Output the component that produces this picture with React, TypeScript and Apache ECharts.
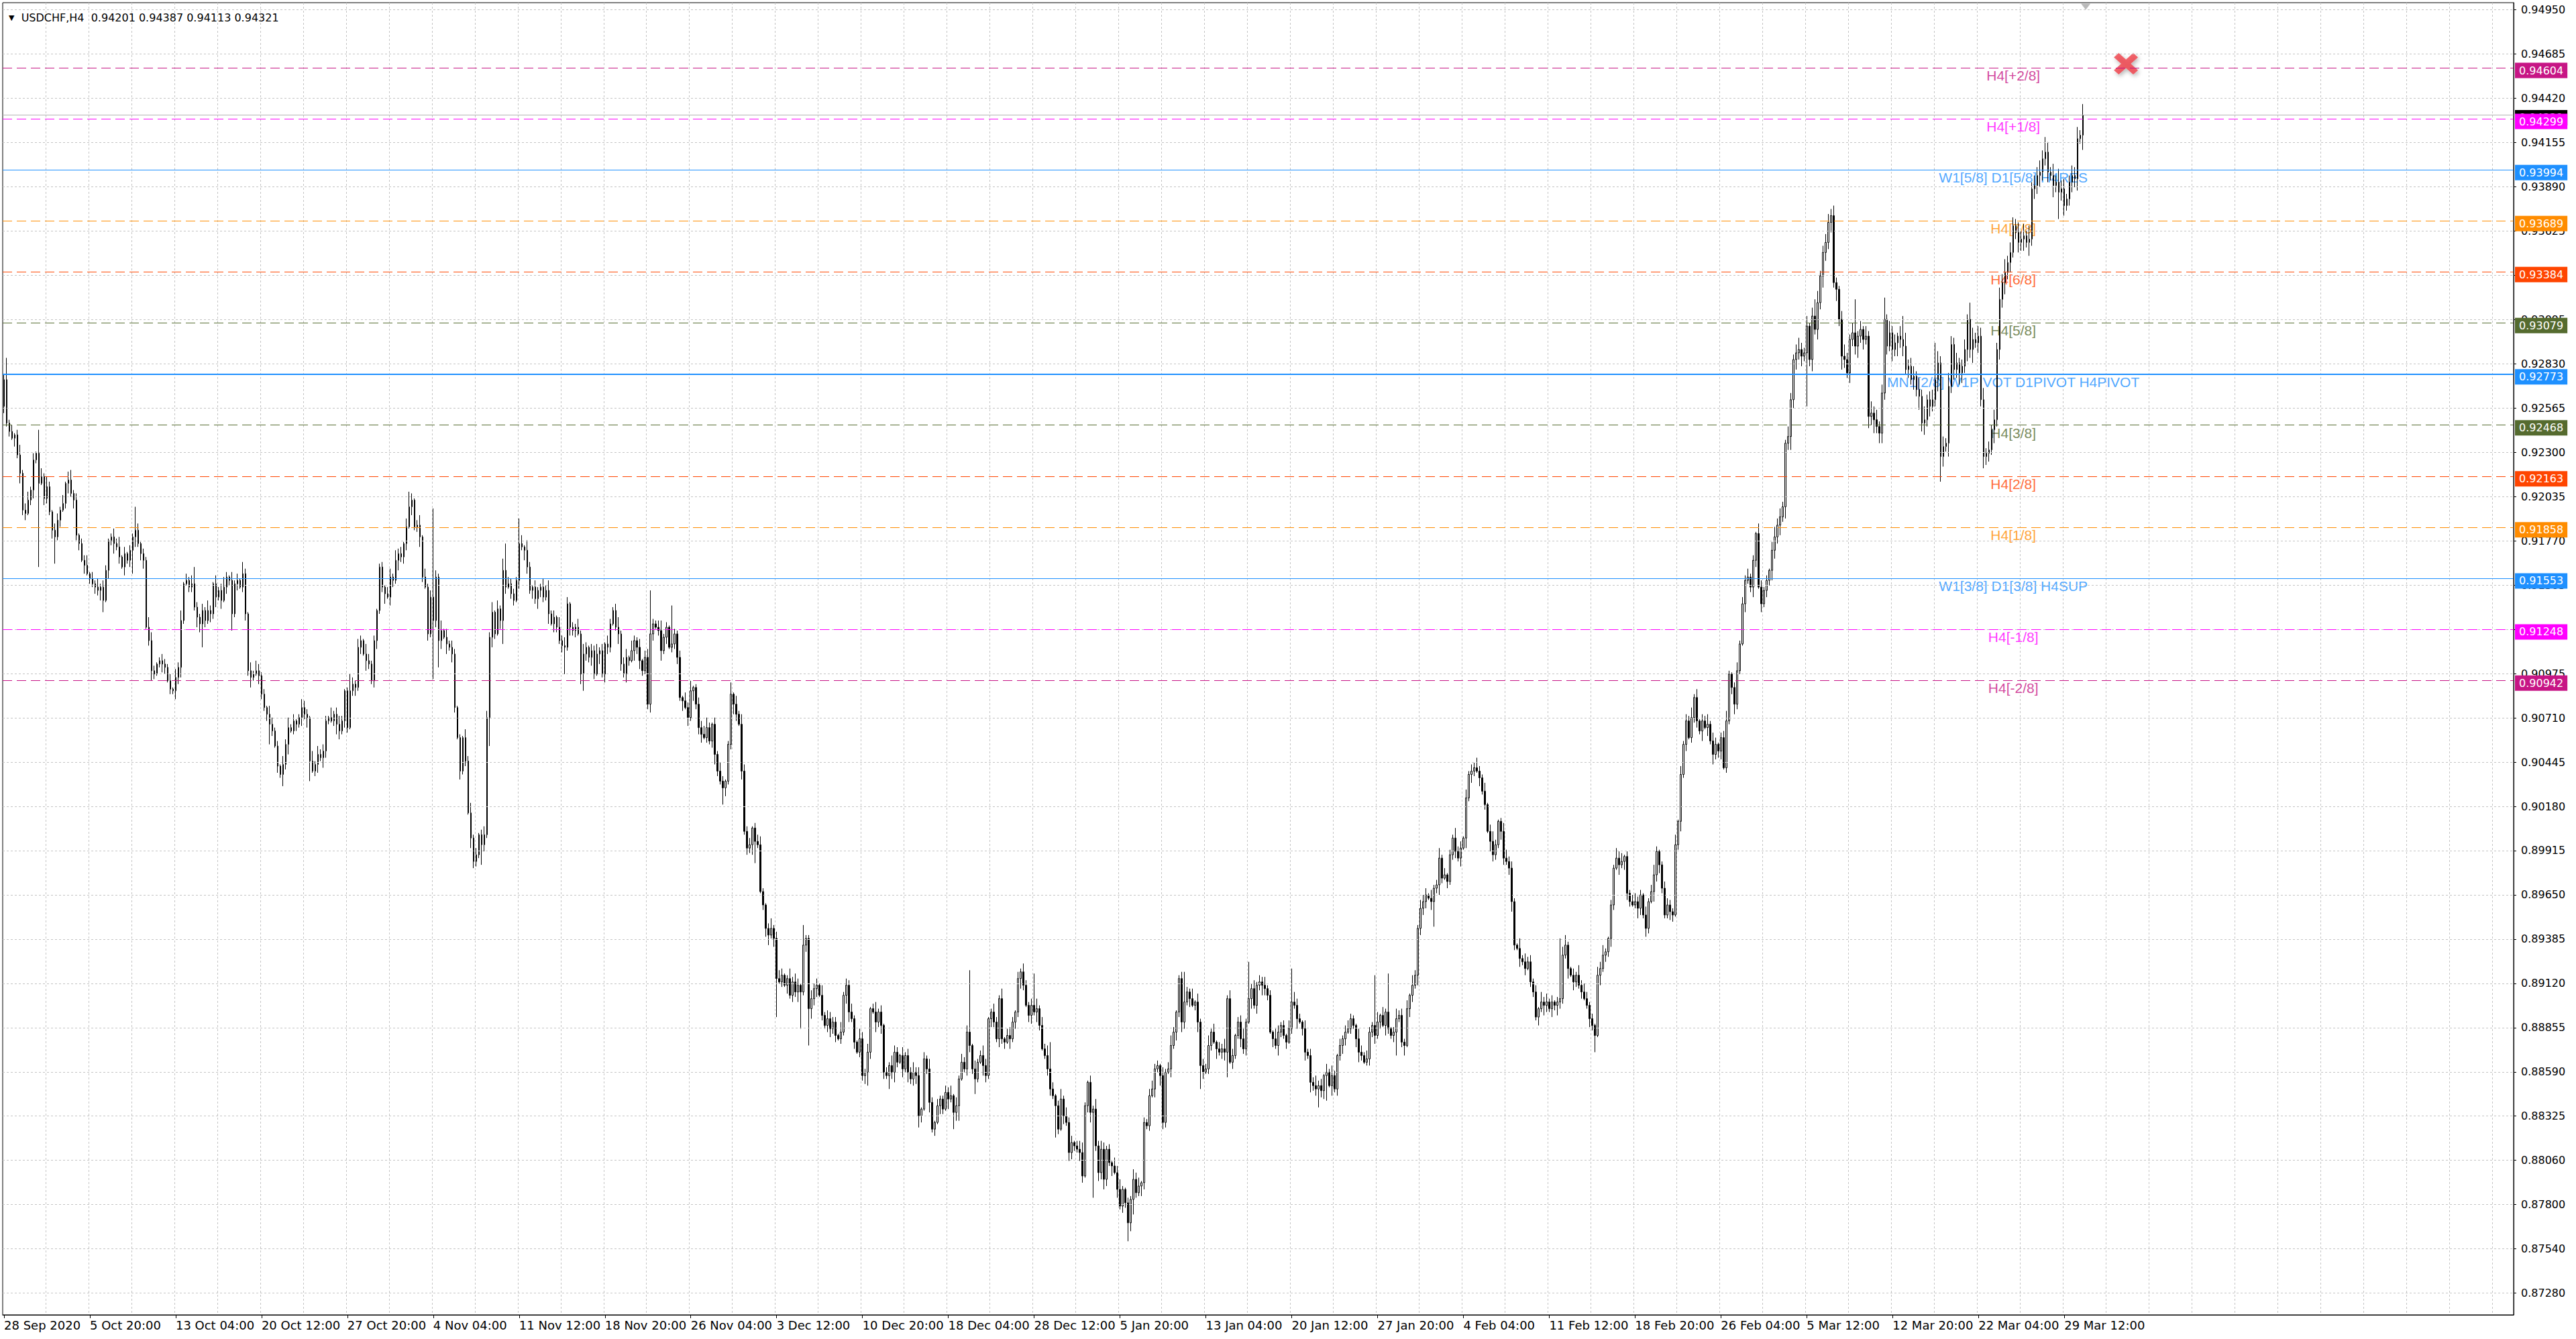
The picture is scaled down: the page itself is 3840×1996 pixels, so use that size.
import React, { useEffect, useRef } from "react";
import * as echarts from "echarts";

// ---------------- DATA ----------------
const symbolName = "USDCHF,H4";
// last bar: open, high, low, close
const lastBarOHLC = [0.94201, 0.94387, 0.94113, 0.94321];

// H4 closes in pips (price * 10000), bar 0 = 28 Sep 2020 12:00
const firstOpen = 9258;
const closes = [
  // 0-19
  9274, 9248, 9243, 9239, 9241, 9229, 9218, 9196, 9194, 9202, 9208, 9226, 9230, 9212, 9216, 9203, 9210, 9195, 9184, 9180,
  // 20-39
  9190, 9196, 9200, 9212, 9214, 9206, 9202, 9181, 9176, 9166, 9163, 9158, 9155, 9152, 9150, 9148, 9150, 9142, 9160, 9178,
  // 40-59
  9180, 9176, 9174, 9168, 9162, 9170, 9166, 9172, 9180, 9184, 9176, 9170, 9166, 9126, 9118, 9100, 9098, 9104, 9106, 9104,
  // 60-79
  9102, 9094, 9089, 9088, 9096, 9102, 9130, 9152, 9154, 9150, 9152, 9138, 9132, 9128, 9136, 9130, 9136, 9134, 9152, 9144,
  // 80-99
  9148, 9142, 9150, 9156, 9154, 9134, 9152, 9154, 9150, 9158, 9134, 9100, 9096, 9098, 9100, 9097, 9086, 9078, 9074, 9068,
  // 100-119
  9064, 9055, 9043, 9038, 9044, 9056, 9066, 9064, 9070, 9068, 9072, 9078, 9074, 9072, 9046, 9040, 9044, 9050, 9048, 9052,
  // 120-139
  9070, 9072, 9070, 9074, 9068, 9064, 9070, 9088, 9066, 9088, 9092, 9090, 9114, 9118, 9110, 9106, 9104, 9094, 9118, 9136,
  // 140-159
  9162, 9150, 9146, 9144, 9156, 9154, 9166, 9170, 9168, 9176, 9186, 9198, 9202, 9186, 9187, 9180, 9156, 9150, 9122, 9144,
  // 160-179
  9130, 9156, 9118, 9124, 9120, 9116, 9114, 9110, 9078, 9060, 9040, 9060, 9046, 9015, 9000, 8986, 8990, 9002, 8996, 9002,
  // 180-199
  9072, 9120, 9135, 9122, 9137, 9130, 9160, 9150, 9152, 9146, 9142, 9154, 9176, 9174, 9172, 9162, 9148, 9150, 9143, 9148,
  // 200-219
  9150, 9144, 9148, 9134, 9128, 9132, 9126, 9118, 9115, 9114, 9140, 9126, 9124, 9126, 9122, 9098, 9110, 9114, 9108, 9112,
  // 220-239
  9098, 9110, 9112, 9098, 9116, 9114, 9128, 9136, 9126, 9122, 9104, 9098, 9108, 9106, 9112, 9118, 9114, 9106, 9100, 9108,
  // 240-259
  9080, 9122, 9128, 9126, 9124, 9112, 9120, 9126, 9114, 9116, 9122, 9108, 9084, 9082, 9078, 9072, 9088, 9090, 9080, 9066,
  // 260-279
  9062, 9060, 9066, 9058, 9068, 9050, 9040, 9034, 9030, 9034, 9056, 9086, 9080, 9074, 9068, 9040, 9004, 8994, 8996, 9006,
  // 280-299
  8998, 8996, 8968, 8960, 8946, 8942, 8946, 8940, 8916, 8914, 8918, 8912, 8916, 8906, 8914, 8908, 8912, 8908, 8936, 8940,
  // 300-319
  8898, 8904, 8910, 8912, 8906, 8894, 8888, 8892, 8886, 8890, 8882, 8880, 8884, 8906, 8912, 8896, 8892, 8878, 8872, 8880,
  // 320-339
  8858, 8860, 8872, 8898, 8896, 8890, 8896, 8888, 8860, 8858, 8864, 8860, 8872, 8866, 8870, 8862, 8870, 8860, 8856, 8860,
  // 340-359
  8858, 8834, 8838, 8868, 8862, 8842, 8826, 8830, 8840, 8844, 8838, 8848, 8844, 8846, 8836, 8840, 8856, 8866, 8862, 8884,
  // 360-379
  8876, 8862, 8856, 8866, 8870, 8864, 8858, 8892, 8896, 8890, 8880, 8904, 8880, 8878, 8882, 8880, 8890, 8896, 8916, 8920,
  // 380-399
  8912, 8900, 8894, 8900, 8896, 8898, 8888, 8874, 8870, 8862, 8850, 8846, 8840, 8826, 8844, 8834, 8830, 8812, 8818, 8816,
  // 400-419
  8814, 8812, 8798, 8840, 8854, 8836, 8838, 8816, 8800, 8814, 8796, 8814, 8806, 8804, 8800, 8790, 8780, 8790, 8782, 8770,
  // 420-439
  8784, 8796, 8788, 8792, 8794, 8830, 8828, 8846, 8850, 8862, 8864, 8858, 8830, 8860, 8862, 8876, 8884, 8896, 8916, 8890,
  // 440-459
  8902, 8908, 8904, 8900, 8902, 8890, 8864, 8860, 8862, 8876, 8884, 8878, 8874, 8872, 8874, 8872, 8904, 8866, 8870, 8882,
  // 460-479
  8890, 8880, 8874, 8890, 8904, 8910, 8900, 8912, 8914, 8912, 8910, 8906, 8884, 8880, 8876, 8884, 8888, 8882, 8878, 8886,
  // 480-499
  8902, 8900, 8892, 8890, 8886, 8872, 8870, 8854, 8852, 8850, 8852, 8849, 8858, 8860, 8852, 8858, 8850, 8870, 8876, 8880,
  // 500-519
  8884, 8886, 8892, 8888, 8880, 8872, 8870, 8866, 8868, 8884, 8888, 8882, 8890, 8894, 8888, 8896, 8886, 8882, 8884, 8892,
  // 520-539
  8894, 8878, 8876, 8898, 8906, 8912, 8918, 8946, 8958, 8962, 8966, 8964, 8962, 8970, 8972, 8988, 8976, 8978, 8974, 8990,
  // 540-559
  9000, 8992, 8988, 8994, 9000, 9024, 9038, 9040, 9042, 9040, 9036, 9028, 9020, 9004, 8998, 8990, 8996, 9010, 9004, 8988,
  // 560-579
  8986, 8982, 8962, 8936, 8934, 8928, 8926, 8922, 8926, 8914, 8908, 8893, 8898, 8902, 8900, 8902, 8898, 8902, 8900, 8902,
  // 580-599
  8904, 8930, 8936, 8922, 8918, 8914, 8918, 8912, 8908, 8904, 8900, 8892, 8888, 8882, 8918, 8922, 8930, 8932, 8940, 8960,
  // 600-619
  8982, 8988, 8984, 8986, 8989, 8967, 8962, 8960, 8962, 8958, 8966, 8954, 8946, 8962, 8968, 8978, 8992, 8984, 8970, 8954,
  // 620-639
  8960, 8956, 8954, 8996, 9010, 9038, 9056, 9070, 9060, 9072, 9084, 9070, 9064, 9070, 9066, 9068, 9058, 9050, 9056, 9052,
  // 640-659
  9060, 9042, 9070, 9098, 9090, 9080, 9100, 9116, 9140, 9154, 9156, 9150, 9166, 9182, 9150, 9140, 9148, 9154, 9160, 9172,
  // 660-679
  9180, 9187, 9192, 9198, 9236, 9240, 9262, 9286, 9290, 9292, 9288, 9290, 9306, 9286, 9312, 9304, 9320, 9336, 9350, 9356,
  // 680-699
  9368, 9372, 9332, 9328, 9310, 9288, 9286, 9278, 9298, 9302, 9294, 9300, 9304, 9298, 9300, 9252, 9254, 9250, 9246, 9242,
  // 700-719
  9266, 9310, 9294, 9302, 9292, 9296, 9300, 9298, 9294, 9280, 9282, 9274, 9276, 9268, 9264, 9248, 9250, 9262, 9258, 9262,
  // 720-739
  9274, 9284, 9228, 9234, 9236, 9270, 9295, 9280, 9284, 9278, 9282, 9292, 9310, 9292, 9298, 9296, 9300, 9262, 9228, 9230,
  // 740-759
  9232, 9244, 9250, 9292, 9322, 9332, 9338, 9344, 9350, 9366, 9362, 9356, 9358, 9360, 9356, 9358, 9388, 9390, 9396, 9398,
  // 760-775
  9406, 9410, 9398, 9396, 9390, 9392, 9386, 9388, 9378, 9382, 9392, 9396, 9394, 9418, 9420.1, 9432.1,
];

// wick lengths beyond the body, in pips, one digit per bar
const hiWickStr = `
3524136245 2413526314 4251362413 3614252431 2536141325 4132653124 3241536142 5132426315
2463152413 3152642315 4231536241 2543162534 3162453126 4253164231 2314526341 5241361524
3426152431 2153624135 4361527243 3245163142 2536241635 4132526314 3624153246 2451632514
5132462315 3241536124 4563142531 2315264341 3452136245 4126354132 2534162543 3162435216
4251362413 2643152436 3514263142 2436152534 4152364125 3261453142 5324162536 2413625341
3562142635 4231546213 2645132453 3152463124 4326152436 2514362541 3462135243 5231642315
2643152436 3415263142 4532164253 2361524136 3425163254 4152362413 2634152436 3251463125
5342162534 2416352413 3562142635 4231546213 2645132453 3152463124 4326152436 2514362541
3462135243 5231642315 6453264357 4362547345 5463257436 4352637463 5637452648 4563748356
5746385463 4635746573 5364758465 4657384657 5463748563 4657385746`;
const loWickStr = `
4231526341 3526143252 2413625341 5132436215 3624152436 2451363125 4132546213 3265142536
2514362413 4362153245 3142536124 2536413526 4213652431 3524163245 2361542634 4152363142
3425162531 5231643254 2463152413 3152642536 4326153241 2534162435 3162543126 4253164532
2541362413 3426152634 5132463215 2364152436 4213562541 3152436324 2645132453 4132562413
3524163542 2463152634 5241362415 3162453124 4352164253 2534162436 3145263124 4263152543
2531462354 3426152436 5132642315 2643152536 4251362413 3162453142 2534162536 4315263241
3261452634 2453162435 4132563124 3524163245 2361542634 4152363142 3425162531 5231643254
2463152413 3152642536 4326153241 2534162435 3162543126 4253164532 2541362413 3426152634
5132463215 2364152436 5463748564 6354736475 4637485364 5746375846 6453748563 5364857463
4756384657 6475836475 5384657463 4657384657 5463748563 4657385746`;

// long wicks: [bar, price in pips]
const highSpikes = [
  [1, 9287], [13, 9244], [24, 9219], [49, 9198], [71, 9162], [89, 9165], [129, 9098], [151, 9207],
  [160, 9197], [187, 9176], [192, 9191], [241, 9148], [249, 9139], [271, 9093], [298, 8948], [360, 8921],
  [384, 8919], [390, 8878], [440, 8920], [464, 8926], [480, 8922], [511, 8918], [516, 8919], [549, 9046],
  [580, 8940], [675, 9322], [681, 9376], [690, 9322], [701, 9323], [708, 9312], [720, 9296], [733, 9320],
  [761, 9419],
];
const lowSpikes = [
  [13, 9162], [19, 9164], [37, 9135], [48, 9158], [74, 9114], [85, 9124], [99, 9056], [104, 9031],
  [114, 9034], [160, 9095], [162, 9102], [175, 8983], [177, 8990], [178, 8984], [181, 9055], [186, 9116],
  [209, 9098], [216, 9088], [240, 9077], [268, 9020], [280, 8985], [288, 8893], [297, 8886], [300, 8876],
  [322, 8852], [330, 8850], [341, 8827], [347, 8824], [354, 8826], [356, 8831], [362, 8847], [392, 8821],
  [402, 8794], [406, 8785], [410, 8790], [419, 8759], [421, 8775], [446, 8850], [456, 8857], [490, 8839],
  [493, 8843], [519, 8870], [528, 8942], [533, 8947], [571, 8891], [593, 8872], [672, 9258], [687, 9275],
  [699, 9236], [715, 9243], [722, 9213], [739, 9223], [766, 9370],
];

// x axis tick labels, one every 32 bars
const xTickLabels = [
  "28 Sep 2020", "5 Oct 20:00", "13 Oct 04:00", "20 Oct 12:00", "27 Oct 20:00", "4 Nov 04:00",
  "11 Nov 12:00", "18 Nov 20:00", "26 Nov 04:00", "3 Dec 12:00", "10 Dec 20:00", "18 Dec 04:00",
  "28 Dec 12:00", "5 Jan 20:00", "13 Jan 04:00", "20 Jan 12:00", "27 Jan 20:00", "4 Feb 04:00",
  "11 Feb 12:00", "18 Feb 20:00", "26 Feb 04:00", "5 Mar 12:00", "12 Mar 20:00", "22 Mar 04:00",
  "29 Mar 12:00",
];
// y axis tick labels, bottom to top
const yTickLabels = [
  "0.87280", "0.87540", "0.87800", "0.88060", "0.88325", "0.88590", "0.88855", "0.89120", "0.89385", "0.89650",
  "0.89915", "0.90180", "0.90445", "0.90710", "0.90975", "0.91240", "0.91505", "0.91770", "0.92035", "0.92300",
  "0.92565", "0.92830", "0.93095", "0.93360", "0.93625", "0.93890", "0.94155", "0.94420", "0.94685", "0.94950",
];

// Murrey-math levels
const levelValues = [0.94604, 0.94299, 0.93994, 0.93689, 0.93384, 0.93079, 0.92773, 0.92468, 0.92163, 0.91858, 0.91553, 0.91248, 0.90942];
const levelNames = [
  "H4[+2/8]", "H4[+1/8]", "W1[5/8] D1[5/8] H4RES", "H4[7/8]", "H4[6/8]", "H4[5/8]",
  "MN1[2/8] W1PIVOT D1PIVOT H4PIVOT", "H4[3/8]", "H4[2/8]", "H4[1/8]", "W1[3/8] D1[3/8] H4SUP", "H4[-1/8]", "H4[-2/8]",
];
const crossMark = [791, 0.94628]; // [bar, price]
const shiftMark = [776, 0.94969];

// ---------------- STYLE ----------------
const levelColors = ["#C71585", "#FF00FF", "#1E90FF", "#FF8C00", "#FF4500", "#556B2F", "#1E90FF", "#556B2F", "#FF4500", "#FF8C00", "#1E90FF", "#FF00FF", "#C71585"];
const levelSolid = [false, false, true, false, false, false, true, false, false, false, true, false, false];
const levelWidth = [1, 1, 1, 1, 1, 1, 2, 1, 1, 1, 1, 1, 1];
const N_SLOTS = 936;
const LABEL_BAR = 749;
const Y_TICK_BASE = 0.8728;
const Y_TICK_STEP = 0.0026448;
const GRID_COLOR = "#c4c4c4";

function buildCandles() {
  const hw = hiWickStr.replace(/\s+/g, "").split("").map(Number);
  const lw = loWickStr.replace(/\s+/g, "").split("").map(Number);
  const hs = new Map(highSpikes.map((d) => [d[0], d[1]]));
  const ls = new Map(lowSpikes.map((d) => [d[0], d[1]]));
  const out: number[][] = [];
  for (let i = 0; i < closes.length; i++) {
    const o = i === 0 ? firstOpen : closes[i - 1];
    const c = closes[i];
    let h = Math.max(o, c) + (hw[i] ?? 2);
    let l = Math.min(o, c) - (lw[i] ?? 2);
    if (hs.has(i)) h = Math.max(h, hs.get(i) as number);
    if (ls.has(i)) l = Math.min(l, ls.get(i) as number);
    out.push([o / 10000, c / 10000, l / 10000, h / 10000]);
  }
  const last = out.length - 1;
  out[last] = [lastBarOHLC[0], lastBarOHLC[3], lastBarOHLC[2], lastBarOHLC[1]];
  return out;
}

export default function App() {
  const ref = useRef<HTMLDivElement>(null);
  useEffect(() => {
    document.body.style.margin = "0";
    if (!ref.current) return;
    const chart = echarts.init(ref.current, undefined, { renderer: "svg" });
    const candles = buildCandles();
    const slots = Array.from({ length: N_SLOTS }, (_, i) => String(i));
    const yTickValues = yTickLabels.map((_, k) => Y_TICK_BASE + k * Y_TICK_STEP);
    const labelEvery = (i: number) => i % 32 === 0 && i / 32 < xTickLabels.length;
    const tagLabel = (bg: string, v: number) => ({
      show: true,
      position: "end",
      distance: 2,
      offset: [0, 4],
      formatter: () => v.toFixed(5),
      backgroundColor: bg,
      color: "#ffffff",
      padding: [3, 6, 2, 6],
      fontFamily: "DejaVu Sans",
      fontSize: 16,
      lineHeight: 18,
    });

    const levelLines: any[] = [
      {
        yAxis: lastBarOHLC[3],
        lineStyle: { color: "#b4b4b4", type: "solid", width: 1 },
        label: tagLabel("#000000", lastBarOHLC[3]),
      },
    ];
    levelValues.forEach((v, i) => {
      levelLines.push({
        yAxis: v,
        lineStyle: { color: levelColors[i], type: levelSolid[i] ? "solid" : [14, 7], width: levelWidth[i] },
        label: tagLabel(levelColors[i], v),
      });
    });

    const option: any = {
      animation: false,
      backgroundColor: "#ffffff",
      title: {
        text: `{t|▼}  ${symbolName}  ${lastBarOHLC.map((v) => v.toFixed(5)).join(" ")}`,
        left: 8,
        top: 13,
        textStyle: {
          fontFamily: "DejaVu Sans",
          fontSize: 16,
          fontWeight: "normal",
          color: "#000",
          rich: { t: { fontSize: 11, color: "#000", fontFamily: "DejaVu Sans" } },
        },
      },
      grid: { left: 4, right: 93, top: 4, bottom: 36, show: true, borderColor: "#000", borderWidth: 1 },
      xAxis: {
        type: "category",
        data: slots,
        boundaryGap: true,
        axisLine: { show: true, lineStyle: { color: "#000", width: 1 } },
        axisTick: { show: true, alignWithLabel: true, interval: labelEvery, length: 5, lineStyle: { color: "#000" } },
        axisLabel: {
          show: true,
          interval: labelEvery,
          formatter: (_v: string, idx: number) => xTickLabels[idx / 32] ?? "",
          align: "left",
          fontFamily: "DejaVu Sans",
          fontSize: 18,
          color: "#000",
          margin: 6,
        },
        splitLine: {
          show: true,
          interval: (i: number) => i % 16 === 0 && i > 0,
          lineStyle: { color: GRID_COLOR, type: [3, 3], width: 1 },
        },
      },
      yAxis: {
        type: "value",
        position: "right",
        min: 0.8715,
        max: 0.94993,
        scale: true,
        splitLine: { show: false },
        axisLine: { show: true, lineStyle: { color: "#000" } },
        axisTick: { show: true, customValues: yTickValues, length: 4, lineStyle: { color: "#000" } },
        axisLabel: {
          show: true,
          customValues: yTickValues,
          formatter: (v: number) => yTickLabels[Math.round((v - Y_TICK_BASE) / Y_TICK_STEP)] ?? "",
          fontFamily: "DejaVu Sans",
          fontSize: 16,
          color: "#000",
          margin: 11,
        },
      },
      series: [
        {
          name: "grid",
          type: "scatter",
          data: [],
          z: 1,
          silent: true,
          markLine: {
            silent: true,
            precision: 8,
            symbol: ["none", "none"],
            label: { show: false },
            lineStyle: { color: GRID_COLOR, type: [3, 3], width: 1 },
            data: yTickValues.map((v) => ({ yAxis: v })),
          },
        },
        {
          name: "levels",
          type: "scatter",
          z: 2,
          symbolSize: 0,
          silent: true,
          data: levelValues.map((v, i) => ({
            value: [LABEL_BAR, v],
            label: { color: levelColors[i] },
          })),
          label: {
            show: true,
            position: "bottom",
            distance: 1,
            formatter: (p: any) => levelNames[p.dataIndex],
            fontFamily: "Liberation Sans",
            fontSize: 21,
          },
          markLine: {
            silent: true,
            precision: 8,
            symbol: ["none", "none"],
            data: levelLines,
          },
        },
        {
          name: "USDCHF",
          type: "candlestick",
          z: 3,
          large: false,
          barWidth: 2,
          data: candles,
          itemStyle: {
            color: "#ffffff",
            color0: "#000000",
            borderColor: "#000000",
            borderColor0: "#000000",
            borderColorDoji: "#000000",
            borderWidth: 1,
          },
        },
        {
          name: "marks",
          type: "scatter",
          z: 4,
          silent: true,
          data: [
            {
              value: crossMark,
              symbol: "path://M2,0 L5,3 L8,0 L10,2 L7,5 L10,8 L8,10 L5,7 L2,10 L0,8 L3,5 L0,2 Z",
              symbolSize: [36, 32],
              itemStyle: {
                color: "#EF4048",
                shadowBlur: 6,
                shadowColor: "rgba(0,0,0,0.35)",
                shadowOffsetX: 2,
                shadowOffsetY: 3,
              },
            },
            {
              value: shiftMark,
              symbol: "triangle",
              symbolRotate: 180,
              symbolSize: [14, 9],
              itemStyle: { color: "#a8a8a8" },
            },
          ],
        },
      ],
    };
    chart.setOption(option);
    return () => chart.dispose();
  }, []);
  return <div ref={ref} style={{ width: 3840, height: 1996, background: "#fff" }} />;
}
